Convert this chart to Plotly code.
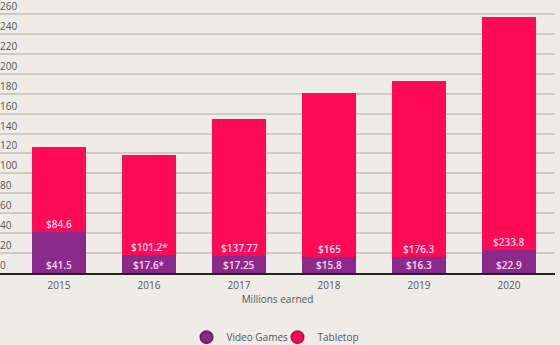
import plotly.graph_objects as go

years = ["2015", "2016", "2017", "2018", "2019", "2020"]
video_games = [41.5, 17.6, 17.25, 15.8, 16.3, 22.9]
tabletop = [84.6, 101.2, 137.77, 165, 176.3, 233.8]
video_labels = ["$41.5", "$17.6*", "$17.25", "$15.8", "$16.3", "$22.9"]
tabletop_labels = ["$84.6", "$101.2*", "$137.77", "$165", "$176.3", "$233.8"]
y_ticks = list(range(0, 261, 20))

PURPLE = "#8c2a8c"
PINK = "#ff0a54"
BG = "#efece7"
TXT = "#555555"
LBL = "#ffd6f0"
FONT = "Open Sans"

fig = go.Figure()
fig.add_bar(x=years, y=video_games, name="Video Games", marker=dict(color=PURPLE, line=dict(width=0)),
            showlegend=False, width=0.61)
fig.add_bar(x=years, y=tabletop, name="Tabletop", marker=dict(color=PINK, line=dict(width=0)),
            showlegend=False, width=0.61)
# legend entries with circle markers
fig.add_scatter(x=[None], y=[None], mode="markers", name="Video Games",
                marker=dict(color=PURPLE, size=11, symbol="circle", line=dict(color="#6a1f6a", width=1)))
fig.add_scatter(x=[None], y=[None], mode="markers", name="Tabletop",
                marker=dict(color=PINK, size=11, symbol="circle", line=dict(color="#c8083f", width=1)))

annotations = []
for i, (v, vl, tl) in enumerate(zip(video_games, video_labels, tabletop_labels)):
    annotations.append(dict(x=i, y=0, xref="x", yref="y", text=vl, showarrow=False,
                            yanchor="bottom", yshift=-1,
                            font=dict(size=10, color=LBL, family=FONT, weight=600)))
    annotations.append(dict(x=i, y=v, xref="x", yref="y", text=tl, showarrow=False,
                            yanchor="bottom", yshift=-1,
                            font=dict(size=10, color=LBL, family=FONT, weight=600)))
for v in y_ticks:
    annotations.append(dict(x=0, y=v, xref="paper", yref="y", text=str(v), showarrow=False,
                            xanchor="left", yanchor="bottom", xshift=-2, yshift=-1,
                            font=dict(size=10, color=TXT, family=FONT)))

fig.update_layout(
    width=560, height=345,
    barmode="stack",
    paper_bgcolor=BG, plot_bgcolor=BG,
    margin=dict(l=0, r=5, t=0, b=72, autoexpand=False),
    font=dict(family=FONT, color=TXT, size=10),
    annotations=annotations,
    legend=dict(orientation="h", x=0.5, xanchor="center", y=-0.235, yanchor="middle",
                traceorder="normal", entrywidth=46, entrywidthmode="pixels",
                font=dict(size=10, color=TXT, family=FONT), itemsizing="constant",
                bgcolor="rgba(0,0,0,0)"),
    xaxis=dict(type="category", range=[-0.656, 5.511], showgrid=False,
               showline=True, linecolor="#222222", linewidth=2,
               ticks="", tickfont=dict(size=10, color=TXT), ticklabelstandoff=2,
               title=dict(text="Millions earned", font=dict(size=10, color=TXT), standoff=5)),
    yaxis=dict(range=[0, 274], tickvals=y_ticks, showgrid=True, gridcolor="#cfcbc4", gridwidth=1.5,
               zeroline=False, showticklabels=False, ticks=""),
)

fig.write_html("out.html")
